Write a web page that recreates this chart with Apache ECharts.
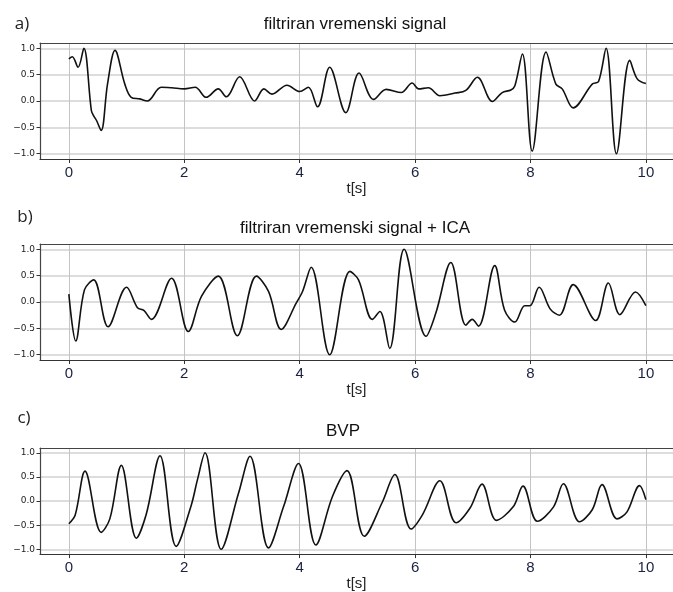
<!DOCTYPE html>
<html>
<head>
<meta charset="utf-8">
<script src="https://cdn.jsdelivr.net/npm/echarts@6/dist/echarts.min.js"></script>
<style>
  html, body { margin: 0; padding: 0; background: #fff; }
  #main { width: 673px; height: 592px; }
</style>
</head>
<body>
<div id="main"></div>
<script>
// a) filtriran vremenski signal
var tA = [0, 0.06, 0.16, 0.26, 0.39, 0.43, 0.48, 0.56, 0.67, 0.8, 0.97, 1.08, 1.23, 1.36, 1.6, 1.78, 2.0, 2.19, 2.38, 2.59, 2.73, 2.96, 3.22, 3.38, 3.52, 3.78, 4.0, 4.15, 4.31, 4.52, 4.8, 5.03, 5.28, 5.5, 5.76, 5.95, 6.06, 6.23, 6.43, 6.69, 6.88, 7.08, 7.34, 7.51, 7.66, 7.73, 7.86, 8.03, 8.27, 8.44, 8.55, 8.74, 9.07, 9.18, 9.31, 9.49, 9.72, 9.85, 10]
var vA = [0.8, 0.84, 0.64, 1.0, -0.18, -0.28, -0.37, -0.56, 0.32, 0.96, 0.32, 0.07, 0.04, 0.0, 0.26, 0.25, 0.23, 0.26, 0.07, 0.23, 0.08, 0.46, 0.0, 0.23, 0.13, 0.3, 0.18, 0.26, -0.11, 0.64, -0.22, 0.53, 0.03, 0.22, 0.16, 0.34, 0.23, 0.25, 0.1, 0.15, 0.2, 0.45, -0.01, 0.16, 0.21, 0.29, 0.89, -0.95, 0.93, 0.32, 0.23, -0.13, 0.32, 0.37, 1.0, -1.0, 0.77, 0.42, 0.33]

// b) filtriran vremenski signal + ICA
var tB = [0, 0.12, 0.27, 0.43, 0.68, 1.0, 1.19, 1.3, 1.43, 1.78, 2.07, 2.3, 2.59, 2.92, 3.25, 3.46, 3.68, 3.94, 4.05, 4.2, 4.52, 4.87, 5.02, 5.26, 5.39, 5.56, 5.81, 6.19, 6.36, 6.62, 6.88, 6.99, 7.1, 7.38, 7.55, 7.73, 7.9, 7.99, 8.15, 8.34, 8.5, 8.74, 9.13, 9.35, 9.55, 9.82, 10]
var vB = [0.15, -0.74, 0.23, 0.42, -0.47, 0.28, -0.11, -0.16, -0.33, 0.45, -0.56, 0.11, 0.49, -0.64, 0.49, 0.2, -0.52, -0.02, 0.2, 0.66, -1.0, 0.58, 0.42, -0.33, -0.18, -0.88, 1.0, -0.65, -0.21, 0.75, -0.44, -0.33, -0.46, 0.69, -0.15, -0.38, -0.07, -0.07, 0.28, -0.13, -0.25, 0.33, -0.35, 0.36, -0.24, 0.19, -0.07]

// c) BVP
var tC = [0, 0.11, 0.28, 0.56, 0.71, 0.91, 1.17, 1.34, 1.58, 1.86, 2.12, 2.23, 2.36, 2.64, 2.94, 3.14, 3.46, 3.72, 3.98, 4.28, 4.57, 4.82, 5.12, 5.43, 5.65, 5.93, 6.13, 6.43, 6.71, 6.95, 7.16, 7.41, 7.7, 7.87, 8.12, 8.4, 8.57, 8.85, 9.07, 9.24, 9.5, 9.67, 9.89, 10]
var vC = [-0.47, -0.29, 0.62, -0.65, -0.37, 0.74, -0.77, -0.28, 0.94, -0.94, -0.09, 0.45, 1.0, -1.0, 0.16, 0.93, -0.97, -0.12, 0.78, -0.91, 0.1, 0.63, -0.73, -0.03, 0.55, -0.58, -0.28, 0.42, -0.45, -0.15, 0.35, -0.4, -0.12, 0.31, -0.42, -0.12, 0.36, -0.43, -0.18, 0.34, -0.37, -0.23, 0.32, 0.03]

var xTicks = [0, 2, 4, 6, 8, 10]
var yTicks = [-1, -0.5, 0, 0.5, 1]
var titles = ['filtriran vremenski signal', 'filtriran vremenski signal + ICA', 'BVP']
var panelLabels = ['a)', 'b)', 'c)']

function zip(t, v) {
  return t.map(function (x, i) { return [x, v[i]] })
}

var myChart = echarts.init(document.getElementById('main'));

var gridTops = [43, 244, 448]
var gridH = 116
var titlePos = [[355, 24], [355, 228], [343, 431]]
var labelPos = [[22, 24], [25, 217], [24, 418]]
var series = [zip(tA, vA), zip(tB, vB), zip(tC, vC)]

var grids = [], xAxes = [], yAxes = [], seriesList = [], texts = []
for (var i = 0; i < 3; i++) {
  // the plot box is cut by the right edge of the picture: no right border
  grids.push({ left: 40, top: gridTops[i], right: 0, height: gridH })
  xAxes.push({
    type: 'value', gridIndex: i, min: -0.5, max: 10.47,
    name: 't[s]', nameLocation: 'middle', nameGap: 13,
    nameTextStyle: { fontFamily: 'Liberation Sans', fontSize: 15, color: '#222', padding: [0, 0, 0, 0] },
    axisLine: { show: true, onZero: false, lineStyle: { color: '#333', width: 1.2 } },
    axisTick: { show: true, length: 4, customValues: xTicks, lineStyle: { color: '#333' } },
    axisLabel: { customValues: xTicks, margin: 6, fontFamily: 'Liberation Sans', fontSize: 15, color: '#1a2040' },
    splitLine: { show: true, lineStyle: { color: '#c4c4c4', width: 1 } }
  })
  // top edge of the box
  xAxes.push({
    type: 'value', gridIndex: i, position: 'top', min: -0.5, max: 10.47,
    axisLine: { show: true, onZero: false, lineStyle: { color: '#444', width: 1.2 } },
    axisTick: { show: false }, axisLabel: { show: false }, splitLine: { show: false }
  })
  yAxes.push({
    type: 'value', gridIndex: i, min: -1.1, max: 1.1,
    axisLine: { show: true, onZero: false, lineStyle: { color: '#444', width: 1.2 } },
    axisTick: { show: true, length: 3.5, customValues: yTicks, lineStyle: { color: '#333' } },
    axisLabel: {
      customValues: yTicks, margin: 5, fontFamily: 'DejaVu Sans', fontSize: 9, color: '#222',
      formatter: function (v) { return (v < 0 ? '\u2212' : '') + Math.abs(v).toFixed(1) }
    },
    splitLine: { show: true, lineStyle: { color: '#d2d2d2', width: 1.6 } }
  })
  seriesList.push({
    type: 'line', xAxisIndex: i * 2, yAxisIndex: i, data: series[i],
    smooth: 0.35, showSymbol: false, animation: false,
    lineStyle: { color: '#111', width: 1.6 }
  })
  texts.push({
    type: 'text', x: titlePos[i][0], y: titlePos[i][1],
    style: { text: titles[i], fontFamily: 'Liberation Sans', fontSize: 17, fill: '#111', textAlign: 'center', textVerticalAlign: 'middle' }
  })
  texts.push({
    type: 'text', x: labelPos[i][0], y: labelPos[i][1],
    style: { text: panelLabels[i], fontFamily: 'Open Sans', fontSize: 17, fill: '#222', textAlign: 'center', textVerticalAlign: 'middle' }
  })
}

myChart.setOption({
  animation: false,
  backgroundColor: '#fff',
  grid: grids,
  xAxis: xAxes,
  yAxis: yAxes,
  series: seriesList,
  graphic: texts
});
</script>
</body>
</html>
